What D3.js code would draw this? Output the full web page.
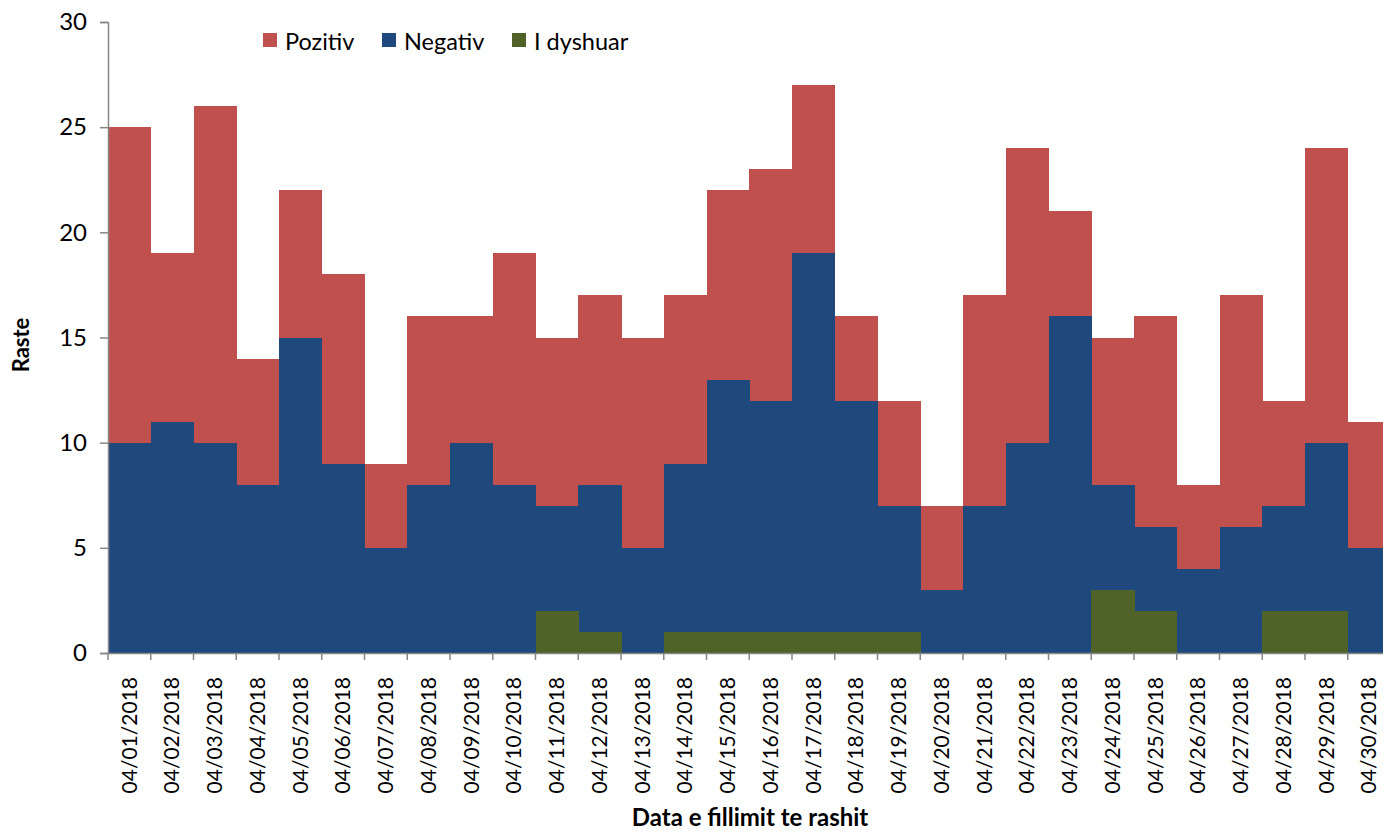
<!DOCTYPE html>
<html><head><meta charset="utf-8">
<script src="https://cdn.jsdelivr.net/npm/d3@7/dist/d3.min.js"></script>
<style>body{margin:0;background:#fff}svg{display:block}text{font-family:Lato,"Open Sans",sans-serif}</style>
</head><body>
<svg id="c" width="1383" height="833"></svg>
<script>
const dates = ["04/01/2018","04/02/2018","04/03/2018","04/04/2018","04/05/2018","04/06/2018","04/07/2018","04/08/2018","04/09/2018","04/10/2018","04/11/2018","04/12/2018","04/13/2018","04/14/2018","04/15/2018","04/16/2018","04/17/2018","04/18/2018","04/19/2018","04/20/2018","04/21/2018","04/22/2018","04/23/2018","04/24/2018","04/25/2018","04/26/2018","04/27/2018","04/28/2018","04/29/2018","04/30/2018"];
// bar heights as drawn (overlapping bars, measured from zero)
const pozitiv = [25,19,26,14,22,18,9,16,16,19,15,17,15,17,22,23,27,16,12,7,17,24,21,15,16,8,17,12,24,11];
const negativ = [10,11,10,8,15,9,5,8,10,8,7,8,5,9,13,12,19,12,7,3,7,10,16,8,6,4,6,7,10,5];
const dyshuar = [0,0,0,0,0,0,0,0,0,0,2,1,0,1,1,1,1,1,1,0,0,0,0,3,2,0,0,2,2,0];
const yTicks = [0,5,10,15,20,25,30];
const seriesNames = ["Pozitiv","Negativ","I dyshuar"];
const colors = ["#C0504D","#1F497D","#4F6228"];

const svg = d3.select("#c");
const mLeft = 108, mTop = 22, mBottom = 653;
const bw = 42.75;
const x = d3.scaleBand().domain(dates).range([mLeft, mLeft + bw*dates.length]).paddingInner(0).paddingOuter(0);
const y = d3.scaleLinear().domain([0,30]).range([mBottom, mTop]);

const series = [pozitiv, negativ, dyshuar];
series.forEach((vals, si) => {
  svg.append("g").attr("shape-rendering","crispEdges").selectAll("rect").data(vals).join("rect")
    .attr("x", (d,i) => x(dates[i]))
    .attr("width", x.bandwidth() + 0.5)
    .attr("y", d => y(d))
    .attr("height", d => y(0) - y(d))
    .attr("fill", colors[si]);
});

// y axis
const ya = svg.append("g").attr("transform", `translate(${mLeft},0)`)
  .call(d3.axisLeft(y).tickValues(yTicks).tickSize(8).tickPadding(13));
ya.select(".domain").attr("stroke","#868686").attr("stroke-width",1.5);
ya.selectAll(".tick line").attr("stroke","#868686").attr("stroke-width",1.5);
ya.selectAll(".tick text").attr("font-size",24).attr("fill","#000").attr("font-family","Lato");

// x axis
const xa = svg.append("g").attr("transform", `translate(0,${mBottom})`)
  .call(d3.axisBottom(x).tickSize(0).tickFormat(d=>d));
xa.select(".domain").attr("stroke","#868686").attr("stroke-width",1.5);
xa.selectAll(".tick text")
  .attr("font-size",21).attr("fill","#000").attr("font-family","Lato")
  .attr("transform","rotate(-90)")
  .attr("text-anchor","end")
  .attr("x",-24).attr("y",0).attr("dy","0.35em");
// boundary tick marks
const bounds = d3.range(dates.length+1).map(i => i < dates.length ? x(dates[i]) : x(dates[i-1]) + x.bandwidth());
svg.append("g").selectAll("line").data(bounds).join("line")
  .attr("x1", d=>d).attr("x2", d=>d).attr("y1", mBottom).attr("y2", mBottom+7)
  .attr("stroke","#868686").attr("stroke-width",1.5);

// axis titles
svg.append("text").attr("x", 750).attr("y", 826).attr("text-anchor","middle")
  .attr("font-size",24).attr("font-weight","bold").text("Data e fillimit te rashit");
svg.append("text").attr("transform","translate(29,345) rotate(-90)").attr("text-anchor","middle")
  .attr("font-size",22).attr("font-weight","bold").text("Raste");

// legend
const legX = [263, 382, 512];
const lg = svg.append("g");
seriesNames.forEach((n,i) => {
  lg.append("rect").attr("x", legX[i]).attr("y", 33).attr("width", 14).attr("height", 14).attr("fill", colors[i]);
  lg.append("text").attr("x", legX[i]+22).attr("y", 50).attr("font-size",23.5).attr("fill","#000").text(n);
});
</script>
</body></html>
